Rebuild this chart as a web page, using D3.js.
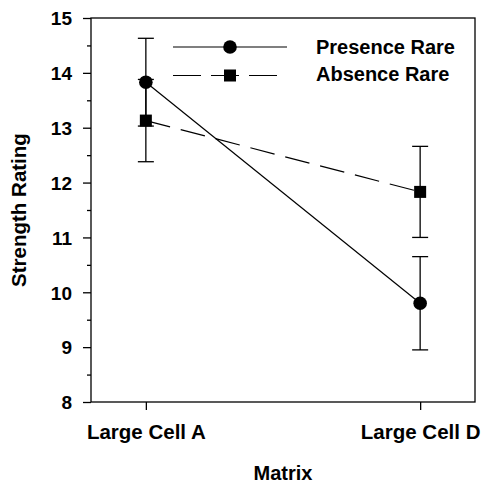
<!DOCTYPE html>
<html>
<head>
<meta charset="utf-8">
<script src="https://cdn.jsdelivr.net/npm/d3@7"></script>
<style>
  body { margin: 0; background: #fff; }
  text { font-family: "Liberation Sans", Arial, sans-serif; font-weight: bold; fill: #000; }
</style>
</head>
<body>
<script>
const categories = ["Large Cell A", "Large Cell D"];
const presenceMean = [13.83, 9.8];
const presenceErr = [0.8, 0.85];
const absenceMean = [13.13, 11.83];
const absenceErr = [0.75, 0.83];
const yTicks = [8, 9, 10, 11, 12, 13, 14, 15];

const width = 482, height = 485;
const margin = { left: 91, top: 18, right: 7, bottom: 83 };

const svg = d3.select("body").append("svg")
  .attr("width", width)
  .attr("height", height);

const x = d3.scalePoint()
  .domain(categories)
  .range([margin.left, width - margin.right])
  .padding(0.2);

const y = d3.scaleLinear()
  .domain([8, 15])
  .range([height - margin.bottom, margin.top]);

// frame
svg.append("rect")
  .attr("x", margin.left)
  .attr("y", margin.top)
  .attr("width", width - margin.right - margin.left)
  .attr("height", height - margin.bottom - margin.top)
  .attr("fill", "none")
  .attr("stroke", "#000")
  .attr("stroke-width", 1.3);

// y axis
const yAxis = svg.append("g")
  .attr("transform", `translate(${margin.left},0)`)
  .call(d3.axisLeft(y).tickValues(yTicks).tickSize(8).tickPadding(11).tickFormat(d3.format("d")));
yAxis.select(".domain").remove();
yAxis.selectAll("text").style("font-size", "19px").attr("dy", "0.36em");
yAxis.selectAll("line").attr("stroke-width", 1.3);

svg.append("g")
  .attr("transform", `translate(${margin.left},0)`)
  .call(d3.axisLeft(y).tickValues(d3.range(8.5, 15, 1)).tickSize(4).tickFormat(""))
  .call(g => g.select(".domain").remove())
  .selectAll("line").attr("stroke-width", 1.3);

// x axis
const xAxis = svg.append("g")
  .attr("transform", `translate(0,${height - margin.bottom})`)
  .call(d3.axisBottom(x).tickSize(8));
xAxis.select(".domain").remove();
xAxis.selectAll("text")
  .style("font-size", "20.5px")
  .attr("y", 37)
  .attr("dy", 0);
xAxis.selectAll("line").attr("stroke-width", 1.3);

// titles
svg.append("text")
  .attr("x", (margin.left + width - margin.right) / 2)
  .attr("y", 480)
  .attr("text-anchor", "middle")
  .style("font-size", "20px")
  .text("Matrix");

svg.append("text")
  .attr("transform", `translate(26,${(margin.top + height - margin.bottom) / 2}) rotate(-90)`)
  .attr("text-anchor", "middle")
  .style("font-size", "20.5px")
  .text("Strength Rating");

const line = d3.line()
  .x((d, i) => x(categories[i]))
  .y(d => y(d));

function errorBars(means, errs) {
  const g = svg.append("g").attr("stroke", "#000").attr("stroke-width", 1.3);
  categories.forEach((c, i) => {
    const cx = x(c);
    g.append("line").attr("x1", cx).attr("x2", cx)
      .attr("y1", y(means[i] - errs[i])).attr("y2", y(means[i] + errs[i]));
    [means[i] - errs[i], means[i] + errs[i]].forEach(v => {
      g.append("line").attr("x1", cx - 8).attr("x2", cx + 8)
        .attr("y1", y(v)).attr("y2", y(v));
    });
  });
}

errorBars(absenceMean, absenceErr);
errorBars(presenceMean, presenceErr);

svg.append("path")
  .datum(absenceMean)
  .attr("d", line)
  .attr("fill", "none")
  .attr("stroke", "#000")
  .attr("stroke-width", 1.2)
  .attr("stroke-dasharray", "25,11");

svg.append("path")
  .datum(presenceMean)
  .attr("d", line)
  .attr("fill", "none")
  .attr("stroke", "#000")
  .attr("stroke-width", 1.2);

svg.selectAll(".sq")
  .data(absenceMean)
  .enter().append("rect")
  .attr("x", (d, i) => x(categories[i]) - 6)
  .attr("y", d => y(d) - 6)
  .attr("width", 12)
  .attr("height", 12)
  .attr("fill", "#000");

svg.selectAll(".dot")
  .data(presenceMean)
  .enter().append("circle")
  .attr("cx", (d, i) => x(categories[i]))
  .attr("cy", d => y(d))
  .attr("r", 6.8)
  .attr("fill", "#000");

// legend
const legend = svg.append("g");
legend.append("line").attr("x1", 173).attr("x2", 287).attr("y1", 47).attr("y2", 47)
  .attr("stroke", "#000").attr("stroke-width", 1.2);
legend.append("circle").attr("cx", 230).attr("cy", 47).attr("r", 6.8).attr("fill", "#000");
legend.append("text").attr("x", 316).attr("y", 54).style("font-size", "20px").text("Presence Rare");

legend.append("line").attr("x1", 173).attr("x2", 287).attr("y1", 75.5).attr("y2", 75.5)
  .attr("stroke", "#000").attr("stroke-width", 1.2).attr("stroke-dasharray", "28,10");
legend.append("rect").attr("x", 224).attr("y", 69.5).attr("width", 12).attr("height", 12).attr("fill", "#000");
legend.append("text").attr("x", 316).attr("y", 80.5).style("font-size", "20px").text("Absence Rare");
</script>
</body>
</html>
